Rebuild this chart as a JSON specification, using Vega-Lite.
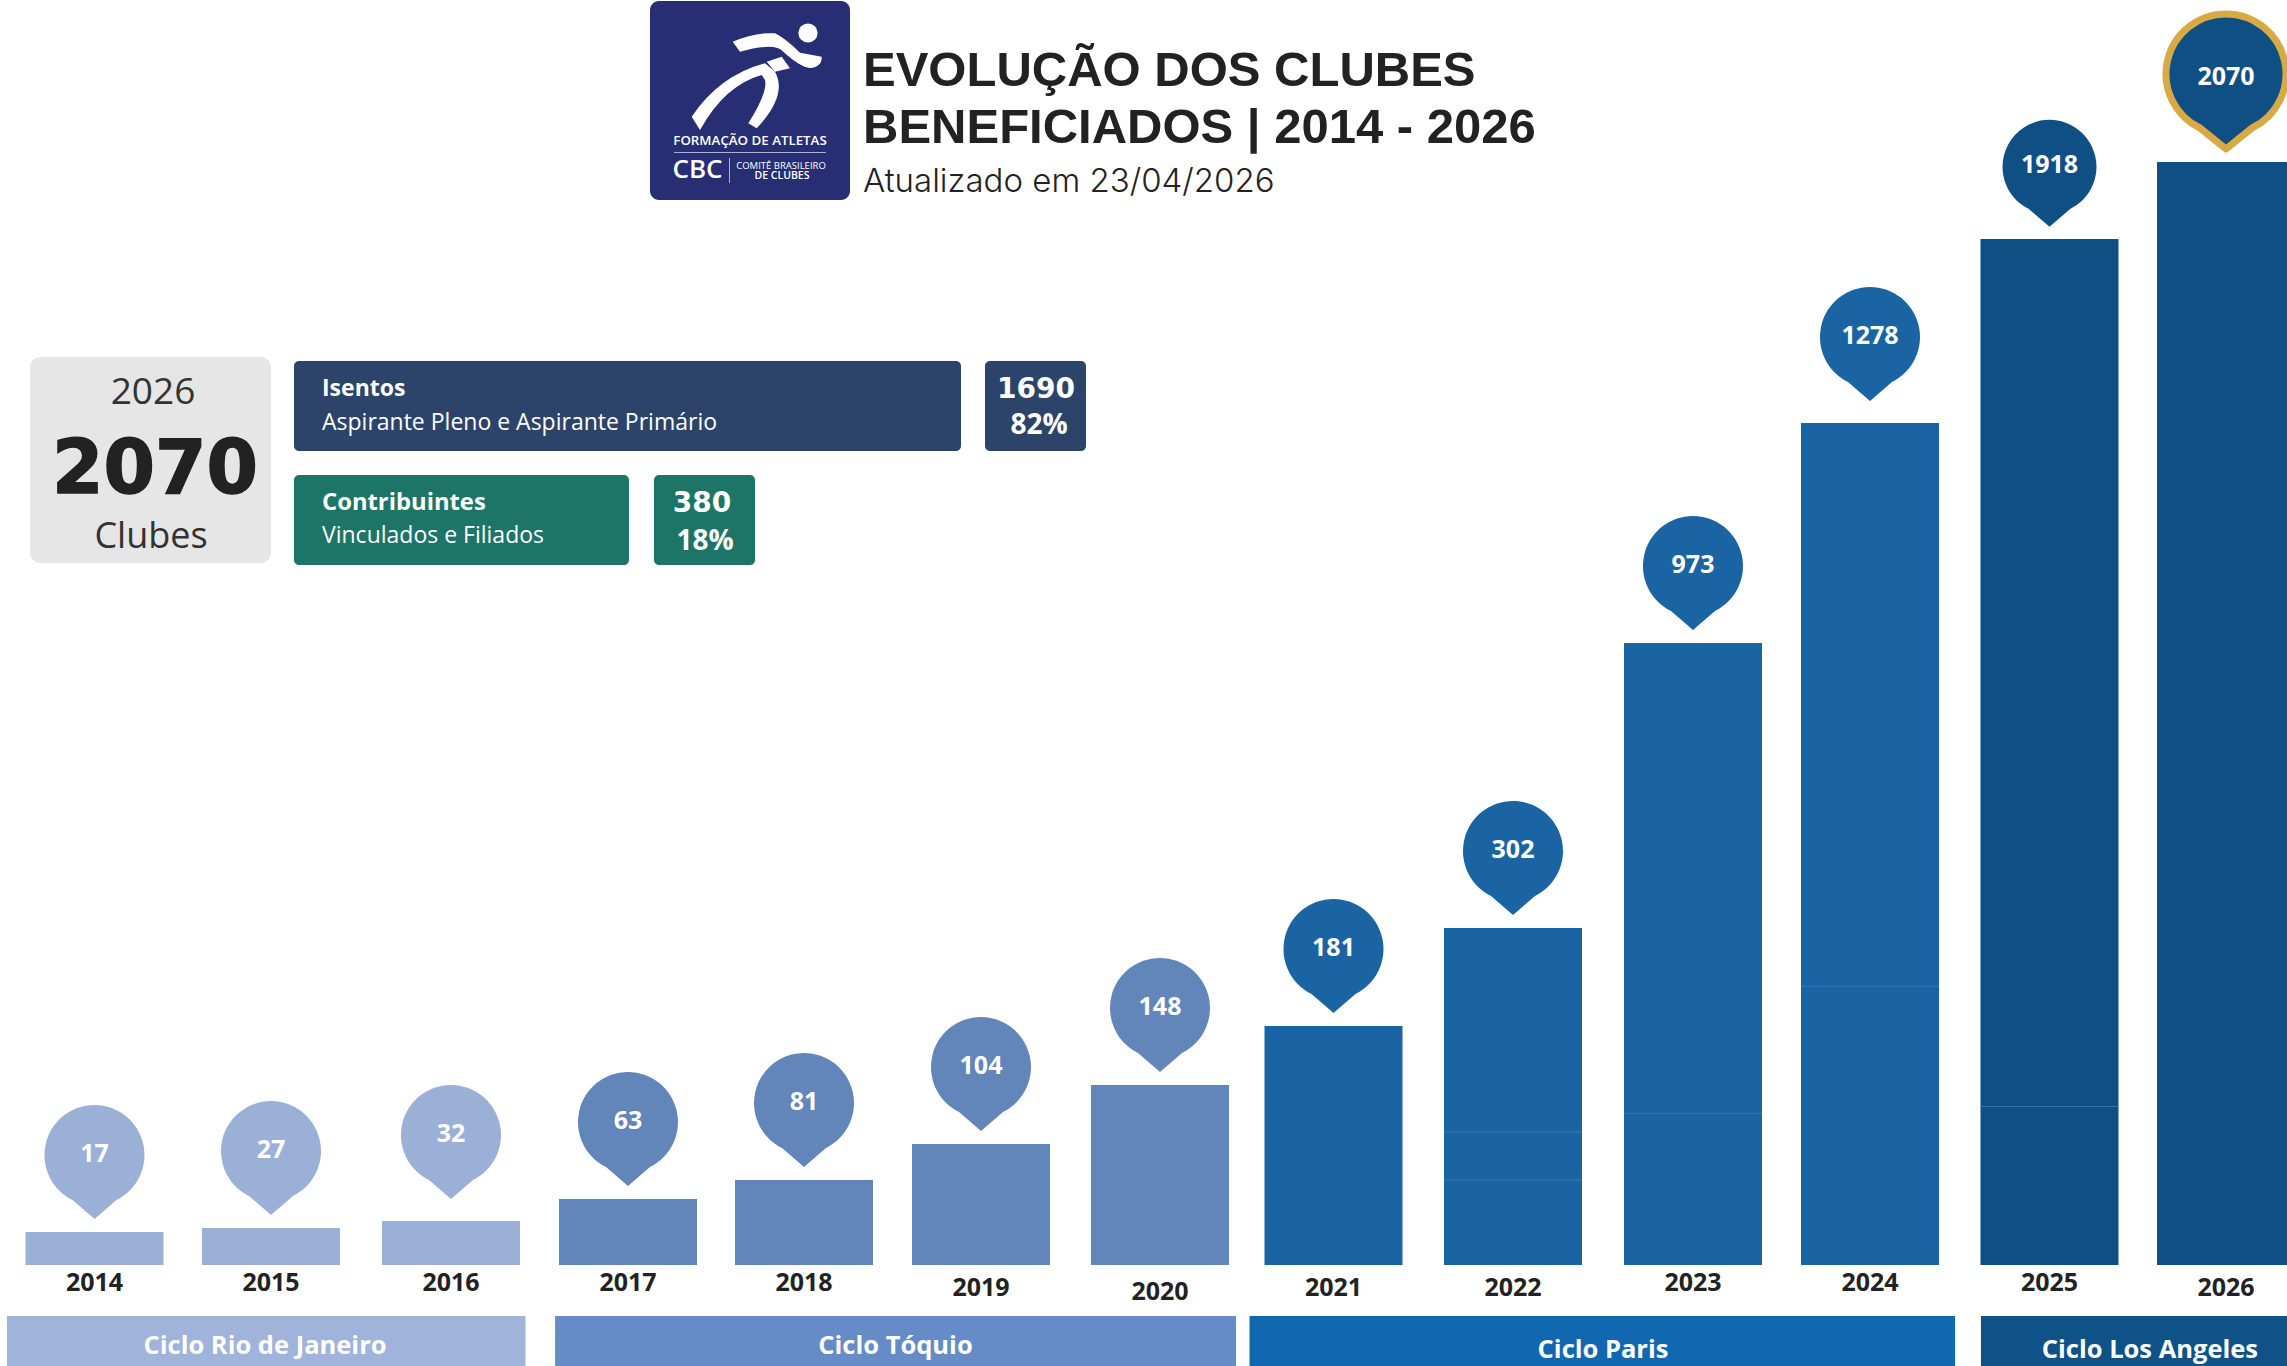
{"$schema":"https://vega.github.io/schema/vega-lite/v6.json","width":2287,"height":1366,"padding":0,"autosize":"none","background":"#ffffff","config":{"view":{"stroke":null}},
"title":{"text":["EVOLUÇÃO DOS CLUBES","BENEFICIADOS | 2014 - 2026"],"subtitle":"Atualizado em 23/04/2026","anchor":"start","frame":"group","orient":"top","offset":0,"dx":863,"dy":199,"lineHeight":57,"font":"Liberation Sans","fontWeight":"bold","fontSize":49,"color":"#222222","subtitleFont":"Inter","subtitleFontWeight":300,"subtitleFontSize":33,"subtitleColor":"#222222","subtitlePadding":13},
"datasets":{"anual":[
{"ano":2014,"clubes":17,"ciclo":"Rio de Janeiro"},{"ano":2015,"clubes":27,"ciclo":"Rio de Janeiro"},{"ano":2016,"clubes":32,"ciclo":"Rio de Janeiro"},
{"ano":2017,"clubes":63,"ciclo":"Tóquio"},{"ano":2018,"clubes":81,"ciclo":"Tóquio"},{"ano":2019,"clubes":104,"ciclo":"Tóquio"},{"ano":2020,"clubes":148,"ciclo":"Tóquio"},
{"ano":2021,"clubes":181,"ciclo":"Paris"},{"ano":2022,"clubes":302,"ciclo":"Paris"},{"ano":2023,"clubes":973,"ciclo":"Paris"},{"ano":2024,"clubes":1278,"ciclo":"Paris"},
{"ano":2025,"clubes":1918,"ciclo":"Los Angeles"},{"ano":2026,"clubes":2070,"ciclo":"Los Angeles"}],
"divisas":[{"ano":2022,"valor":113},{"ano":2022,"valor":81},{"ano":2023,"valor":127},{"ano":2024,"valor":230},{"ano":2025,"valor":132}],
"ciclos":[{"ciclo":"Rio de Janeiro","rotulo":"Ciclo Rio de Janeiro","inicio":2013.504,"fim":2016.421,"centro":2014.966},
{"ciclo":"Tóquio","rotulo":"Ciclo Tóquio","inicio":2016.588,"fim":2020.438,"centro":2018.517},
{"ciclo":"Paris","rotulo":"Ciclo Paris","inicio":2020.516,"fim":2024.474,"centro":2022.5},
{"ciclo":"Los Angeles","rotulo":"Ciclo Los Angeles","inicio":2024.618,"fim":2027,"centro":2025.569}],
"nota":[{}]},
"layer":[
{"data":{"name":"ciclos"},"mark":{"type":"rect"},"encoding":{"x":{"field":"inicio","type":"quantitative","axis":null,"scale":{"type":"linear","domain":[2014,2015,2016,2017,2018,2019,2020,2021,2022,2023,2024,2025,2026],"range":[94.5,271,451,628,804,981,1160,1333.5,1513,1693,1870,2049.5,2226],"nice":false,"zero":false,"padding":0}},"x2":{"field":"fim"},"y":{"value":1316},"y2":{"value":1366},"fill":{"field":"ciclo","type":"nominal","legend":null,"scale":{"domain":["Rio de Janeiro","Tóquio","Paris","Los Angeles"],"range":["#9FB3DB","#658CC6","#1268B0","#0F5288"]}}}},
{"data":{"name":"ciclos"},"mark":{"type":"text","font":"Open Sans","fontWeight":"bold","fontSize":25.5,"color":"#ffffff","baseline":"middle","dy":{"expr":"datum.centro>2020.5?3:-1"}},"encoding":{"x":{"field":"centro","type":"quantitative","axis":null,"scale":{"type":"linear","domain":[2014,2015,2016,2017,2018,2019,2020,2021,2022,2023,2024,2025,2026],"range":[94.5,271,451,628,804,981,1160,1333.5,1513,1693,1870,2049.5,2226],"nice":false,"zero":false,"padding":0}},"y":{"value":1347},"text":{"field":"rotulo"}}},
{"data":{"name":"anual"},"mark":{"type":"text","font":"Open Sans","fontWeight":"bold","fontSize":25,"color":"#222222","baseline":"middle","dy":{"expr":"datum.ano==2020?9:(indexof([2019,2021,2022,2026],datum.ano)>=0?5:0)"}},"encoding":{"x":{"field":"ano","type":"quantitative","axis":null,"scale":{"type":"linear","domain":[2014,2015,2016,2017,2018,2019,2020,2021,2022,2023,2024,2025,2026],"range":[94.5,271,451,628,804,981,1160,1333.5,1513,1693,1870,2049.5,2226],"nice":false,"zero":false,"padding":0}},"y":{"value":1283},"text":{"field":"ano","type":"quantitative","format":"d"}}},
{"data":{"name":"anual"},"mark":{"type":"bar","width":138,"orient":"vertical"},"encoding":{"x":{"field":"ano","type":"quantitative","axis":null,"scale":{"type":"linear","domain":[2014,2015,2016,2017,2018,2019,2020,2021,2022,2023,2024,2025,2026],"range":[94.5,271,451,628,804,981,1160,1333.5,1513,1693,1870,2049.5,2226],"nice":false,"zero":false,"padding":0}},"y":{"field":"clubes","type":"quantitative","stack":null,"axis":null,"scale":{"type":"linear","domain":[0,17,27,32,63,81,104,148,181,302,973,1278,1918,2070],"range":[1265,1232,1228,1221,1199,1180,1144,1085,1026,928,643,423,239,162],"nice":false,"zero":false}},"color":{"field":"ciclo","type":"nominal","legend":null,"scale":{"domain":["Rio de Janeiro","Tóquio","Paris","Los Angeles"],"range":["#9AB0D6","#6285BA","#1A64A4","#0F4F83"]}}}},
{"data":{"name":"divisas"},"mark":{"type":"tick","orient":"horizontal","size":138,"thickness":1,"color":"#3C7DB5","opacity":0.75},"encoding":{"x":{"field":"ano","type":"quantitative","axis":null,"scale":{"type":"linear","domain":[2014,2015,2016,2017,2018,2019,2020,2021,2022,2023,2024,2025,2026],"range":[94.5,271,451,628,804,981,1160,1333.5,1513,1693,1870,2049.5,2226],"nice":false,"zero":false,"padding":0}},"y":{"field":"valor","type":"quantitative","axis":null,"scale":{"type":"linear","domain":[0,17,27,32,63,81,104,148,181,302,973,1278,1918,2070],"range":[1265,1232,1228,1221,1199,1180,1144,1085,1026,928,643,423,239,162],"nice":false,"zero":false}}}},
{"data":{"name":"anual"},"transform":[{"filter":"datum.ano<2026"}],"mark":{"type":"point","filled":true,"opacity":1,"size":{"expr":"datum.ano==2025?3.53:4"},"shape":{"expr":"(datum.ano==2024||datum.ano==2016)?'M -22 -41 L 0 -22 L 22 -41 A 50 50 0 1 0 -22 -41 Z':'M -22 -32 L 0 -13 L 22 -32 A 50 50 0 1 0 -22 -32 Z'"}},"encoding":{"x":{"field":"ano","type":"quantitative","axis":null,"scale":{"type":"linear","domain":[2014,2015,2016,2017,2018,2019,2020,2021,2022,2023,2024,2025,2026],"range":[94.5,271,451,628,804,981,1160,1333.5,1513,1693,1870,2049.5,2226],"nice":false,"zero":false,"padding":0}},"y":{"field":"clubes","type":"quantitative","axis":null,"scale":{"type":"linear","domain":[0,17,27,32,63,81,104,148,181,302,973,1278,1918,2070],"range":[1265,1232,1228,1221,1199,1180,1144,1085,1026,928,643,423,239,162],"nice":false,"zero":false}},"color":{"field":"ciclo","type":"nominal","legend":null,"scale":{"domain":["Rio de Janeiro","Tóquio","Paris","Los Angeles"],"range":["#9AB0D6","#6285BA","#1A64A4","#0F4F83"]}}}},
{"data":{"name":"anual"},"transform":[{"filter":"datum.ano==2026"}],"mark":{"type":"point","filled":true,"opacity":1,"size":4,"stroke":"#D9A945","strokeWidth":7,"strokeJoin":"round","shape":"M -26 -34 L 0 -13 L 26 -34 A 60 60 0 1 0 -26 -34 Z"},"encoding":{"x":{"field":"ano","type":"quantitative","axis":null,"scale":{"type":"linear","domain":[2014,2015,2016,2017,2018,2019,2020,2021,2022,2023,2024,2025,2026],"range":[94.5,271,451,628,804,981,1160,1333.5,1513,1693,1870,2049.5,2226],"nice":false,"zero":false,"padding":0}},"y":{"field":"clubes","type":"quantitative","axis":null,"scale":{"type":"linear","domain":[0,17,27,32,63,81,104,148,181,302,973,1278,1918,2070],"range":[1265,1232,1228,1221,1199,1180,1144,1085,1026,928,643,423,239,162],"nice":false,"zero":false}},"color":{"field":"ciclo","type":"nominal","legend":null,"scale":{"domain":["Rio de Janeiro","Tóquio","Paris","Los Angeles"],"range":["#9AB0D6","#6285BA","#1A64A4","#0F4F83"]}}}},
{"data":{"name":"anual"},"mark":{"type":"text","font":"Open Sans","fontWeight":"bold","fontSize":25,"color":"#ffffff","baseline":"middle","dy":{"expr":"datum.ano==2026?-85:(datum.ano==2025?-74:((datum.ano==2024||datum.ano==2016)?-87:-78))"}},"encoding":{"x":{"field":"ano","type":"quantitative","axis":null,"scale":{"type":"linear","domain":[2014,2015,2016,2017,2018,2019,2020,2021,2022,2023,2024,2025,2026],"range":[94.5,271,451,628,804,981,1160,1333.5,1513,1693,1870,2049.5,2226],"nice":false,"zero":false,"padding":0}},"y":{"field":"clubes","type":"quantitative","axis":null,"scale":{"type":"linear","domain":[0,17,27,32,63,81,104,148,181,302,973,1278,1918,2070],"range":[1265,1232,1228,1221,1199,1180,1144,1085,1026,928,643,423,239,162],"nice":false,"zero":false}},"text":{"field":"clubes","type":"quantitative"}}},

{"data":{"name":"nota"},"mark":{"type":"rect","cornerRadius":9,"color":"#272E74"},"encoding":{"x":{"value":650},"x2":{"value":850},"y":{"value":1},"y2":{"value":200}}},
{"data":{"name":"nota"},"mark":{"type":"point","filled":true,"opacity":1,"size":4,"color":"#ffffff","shape":"M -58.3 16.7 Q -30 -25 15 -36.7 L 25 -28.3 Q 38 -5 6.7 28.3 L -1.7 23.3 Q 18 -8 15 -20 L 11.7 -25 Q -25 -15 -50 30 Z M -17.3 -58.3 Q 5 -68 25 -66.7 Q 35 -62 50 -47.3 L 71.7 -43.3 Q 72 -33 60 -32 Q 50 -33 33.3 -48.3 Q 25 -58 -10 -48.3 Z M 16.7 -38.3 L 31.7 -43.3 L 40 -31.7 L 25 -28.3 Z"},"encoding":{"x":{"value":750},"y":{"value":100}}},
{"data":{"name":"nota"},"mark":{"type":"point","filled":true,"opacity":1,"size":370,"shape":"circle","color":"#ffffff"},"encoding":{"x":{"value":808},"y":{"value":33}}},
{"data":{"name":"nota"},"mark":{"type":"text","x":750,"y":141,"text":"FORMAÇÃO DE ATLETAS","font":"Open Sans","fontWeight":600,"fontSize":13.3,"color":"#ffffff","baseline":"middle"}},
{"data":{"name":"nota"},"mark":{"type":"rect","color":"#AAB0D0"},"encoding":{"x":{"value":674},"x2":{"value":826},"y":{"value":152},"y2":{"value":153}}},
{"data":{"name":"nota"},"mark":{"type":"text","x":697.5,"y":170,"text":"CBC","font":"Open Sans","fontWeight":600,"fontSize":26,"color":"#ffffff","baseline":"middle"}},
{"data":{"name":"nota"},"mark":{"type":"rect","color":"#AAB0D0"},"encoding":{"x":{"value":729},"x2":{"value":730},"y":{"value":158},"y2":{"value":183}}},
{"data":{"name":"nota"},"mark":{"type":"text","x":781,"y":166,"text":"COMITÊ BRASILEIRO","font":"Open Sans","fontSize":9.5,"color":"#ffffff","baseline":"middle"}},
{"data":{"name":"nota"},"mark":{"type":"text","x":782,"y":176,"text":"DE CLUBES","font":"Open Sans","fontWeight":600,"fontSize":10.5,"color":"#ffffff","baseline":"middle"}},

{"data":{"name":"nota"},"mark":{"type":"rect","cornerRadius":10,"color":"#E6E6E6"},"encoding":{"x":{"value":30},"x2":{"value":271},"y":{"value":357},"y2":{"value":563}}},
{"data":{"name":"nota"},"mark":{"type":"text","x":153,"y":393,"text":"2026","font":"Open Sans","fontSize":37,"color":"#333333","baseline":"middle"}},
{"data":{"name":"nota"},"mark":{"type":"text","x":155,"y":471,"text":"2070","font":"DejaVu Sans","fontWeight":"bold","fontSize":74,"color":"#222222","stroke":"#222222","strokeWidth":1.5,"baseline":"middle"}},
{"data":{"name":"nota"},"mark":{"type":"text","x":151,"y":537,"text":"Clubes","font":"Open Sans","fontSize":36,"color":"#333333","baseline":"middle"}},
{"data":{"name":"nota"},"mark":{"type":"rect","cornerRadius":5,"color":"#2C4469"},"encoding":{"x":{"value":294},"x2":{"value":961},"y":{"value":361},"y2":{"value":451}}},
{"data":{"name":"nota"},"mark":{"type":"rect","cornerRadius":5,"color":"#2C4469"},"encoding":{"x":{"value":985},"x2":{"value":1086},"y":{"value":361},"y2":{"value":451}}},
{"data":{"name":"nota"},"mark":{"type":"rect","cornerRadius":5,"color":"#1C7566"},"encoding":{"x":{"value":294},"x2":{"value":629},"y":{"value":475},"y2":{"value":565}}},
{"data":{"name":"nota"},"mark":{"type":"rect","cornerRadius":5,"color":"#1C7566"},"encoding":{"x":{"value":654},"x2":{"value":755},"y":{"value":475},"y2":{"value":565}}},
{"data":{"name":"nota"},"mark":{"type":"text","x":322,"y":389,"text":"Isentos","font":"Open Sans","fontWeight":"bold","fontSize":23,"color":"#ffffff","align":"left","baseline":"middle"}},
{"data":{"name":"nota"},"mark":{"type":"text","x":322,"y":423,"text":"Aspirante Pleno e Aspirante Primário","font":"Open Sans","fontSize":23,"color":"#ffffff","align":"left","baseline":"middle"}},
{"data":{"name":"nota"},"mark":{"type":"text","x":322,"y":503,"text":"Contribuintes","font":"Open Sans","fontWeight":"bold","fontSize":23.8,"color":"#ffffff","align":"left","baseline":"middle"}},
{"data":{"name":"nota"},"mark":{"type":"text","x":322,"y":536,"text":"Vinculados e Filiados","font":"Open Sans","fontSize":23,"color":"#ffffff","align":"left","baseline":"middle"}},
{"data":{"name":"nota"},"mark":{"type":"text","x":1036,"y":390,"text":"1690","font":"DejaVu Sans","fontWeight":"bold","fontSize":28,"color":"#ffffff","baseline":"middle"}},
{"data":{"name":"nota"},"mark":{"type":"text","x":1039,"y":426,"text":"82%","font":"Open Sans","fontWeight":"bold","fontSize":28,"color":"#ffffff","baseline":"middle"}},
{"data":{"name":"nota"},"mark":{"type":"text","x":702,"y":504,"text":"380","font":"DejaVu Sans","fontWeight":"bold","fontSize":28,"color":"#ffffff","baseline":"middle"}},
{"data":{"name":"nota"},"mark":{"type":"text","x":705,"y":542,"text":"18%","font":"Open Sans","fontWeight":"bold","fontSize":28,"color":"#ffffff","baseline":"middle"}}
]}
